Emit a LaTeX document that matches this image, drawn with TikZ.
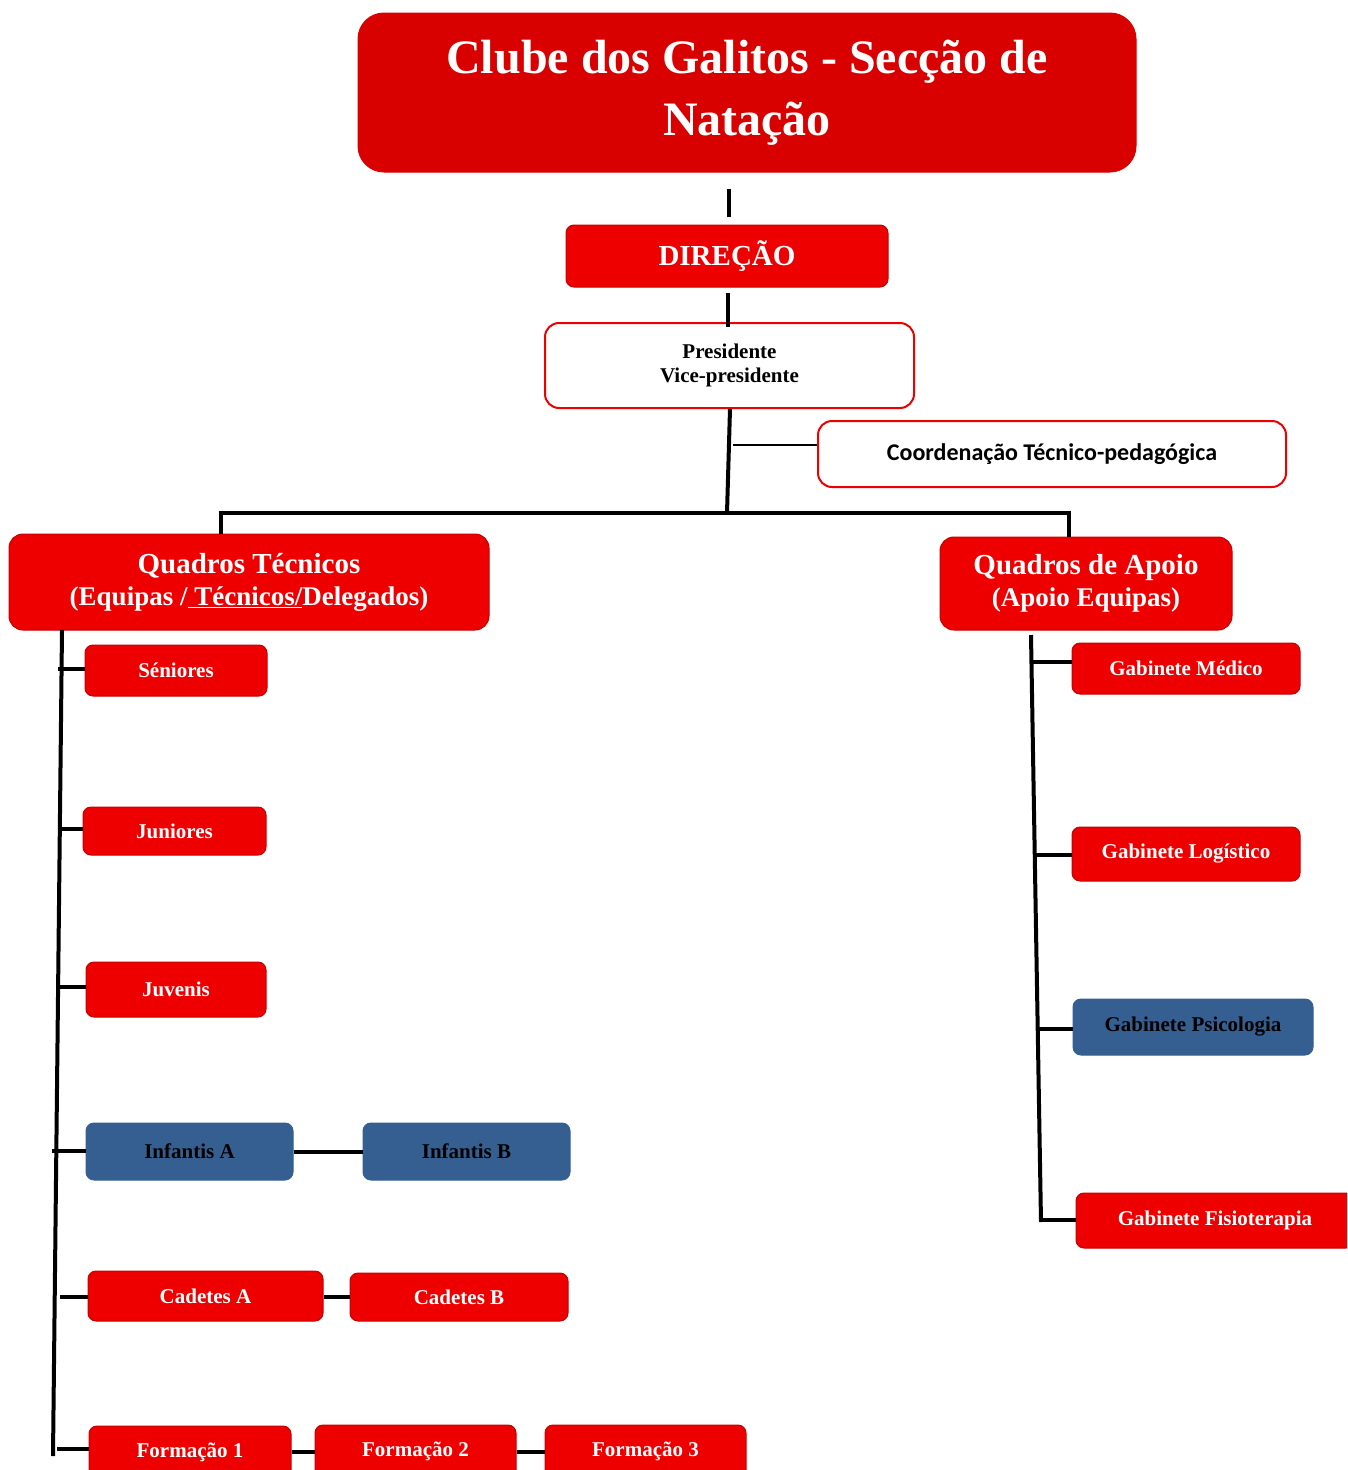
\documentclass[tikz,border=0pt]{standalone}
\usepackage{fontspec}
\setmainfont{Liberation Serif}
\newfontfamily\calib{Carlito}
\definecolor{titlered}{HTML}{D90000}
\definecolor{boxred}{HTML}{EE0000}
\definecolor{edgered}{HTML}{C40000}
\definecolor{boxblue}{HTML}{365F91}
\begin{document}
\begin{tikzpicture}[x=1pt,y=-1pt,
  box/.style={rounded corners=8pt, inner sep=0pt, align=center, draw=edgered, line width=1pt,
    font=\fontsize{21}{24}\selectfont\bfseries},
  redbox/.style={box, fill=boxred, text=white},
  bluebox/.style={box, fill=boxblue, draw=boxblue, text=black},
  whitebox/.style={box, fill=white, draw=boxred, line width=2pt, rounded corners=14pt, text=black},
  conn/.style={line width=4pt, black},
  thin/.style={line width=1.5pt, black}
]
\useasboundingbox (0,0) rectangle (1347,1470);
\clip (0,0) rectangle (1347,1470);

% title and top chain
\node[redbox, fill=titlered, draw=titlered, rounded corners=26pt, minimum width=778pt, minimum height=159pt,
  font=\fontsize{48}{62}\selectfont\bfseries] (title) at (747,92.5) {\raisebox{-3pt}{Clube dos Galitos - Secção de}\\\raisebox{-3pt}{Natação}};
\node[redbox, minimum width=322pt, minimum height=62pt, font=\fontsize{29}{32}\selectfont\bfseries] (dir) at (727,256) {DIREÇÃO};
\node[whitebox, minimum width=369pt, minimum height=85pt] (pres) at (729.5,365.5) {Presidente\\Vice-presidente};
\node[whitebox, minimum width=468pt, minimum height=66pt, font=\calib\fontsize{24}{28}\selectfont\bfseries] (coord) at (1052,454) {Coordenação Técnico-pedagógica};

% second level
\node[redbox, rounded corners=14pt, minimum width=480pt, minimum height=96pt, font=\fontsize{27}{32}\selectfont\bfseries] (qt) at (249,582)
  {{\fontsize{29}{32}\selectfont Quadros Técnicos}\\(Equipas /\underline{ Técnicos/}Delegados)};
\node[redbox, rounded corners=14pt, minimum width=292pt, minimum height=93pt, font=\fontsize{27}{32}\selectfont\bfseries] (qa) at (1086,583.5)
  {{\fontsize{29}{32}\selectfont Quadros de Apoio}\\(Apoio Equipas)};

% left column
\node[redbox, minimum width=182pt, minimum height=51pt] (sen) at (176,670.5) {Séniores};
\node[redbox, minimum width=183pt, minimum height=48pt] (jun) at (174.5,831) {Juniores};
\node[redbox, minimum width=180pt, minimum height=55pt] (juv) at (176,989.5) {Juvenis};
\node[bluebox, minimum width=207pt, minimum height=57pt] (infa) at (189.5,1151.5) {Infantis A};
\node[bluebox, minimum width=207pt, minimum height=57pt] (infb) at (466.5,1151.5) {Infantis B};
\node[redbox, minimum width=235pt, minimum height=50pt] (cada) at (205.5,1296) {Cadetes A};
\node[redbox, minimum width=218pt, minimum height=48pt] (cadb) at (459,1297) {Cadetes B};
\node[redbox, minimum width=202pt, minimum height=52pt] (for1) at (190,1452) {Formação 1};
\node[redbox, minimum width=201pt, minimum height=53pt] (for2) at (415.5,1451.5) {Formação 2};
\node[redbox, minimum width=201pt, minimum height=53pt] (for3) at (645.5,1451.5) {Formação 3};

% right column
\node[redbox, minimum width=228pt, minimum height=51pt] (med) at (1186,668.5) {Gabinete Médico};
\node[redbox, minimum width=228pt, minimum height=54pt] (log) at (1186,854) {Gabinete Logístico};
\node[bluebox, minimum width=240pt, minimum height=56pt] (psi) at (1193,1027) {Gabinete Psicologia};
\node[redbox, minimum width=278pt, minimum height=55pt] (fis) at (1215,1220.5) {Gabinete Fisioterapia};

% top connectors
\draw[conn] ([xshift=2pt,yshift=8pt]dir.north) -- ([xshift=2pt,yshift=36pt]dir.north);
\draw[conn] ([xshift=1pt,yshift=-5pt]dir.south) -- ([xshift=1pt,yshift=-5pt]dir.south |- pres.north);
\coordinate (bar) at (727,513);
\coordinate (lb) at (221,534);
\coordinate (rb) at (1069,537);
\draw[conn] ([xshift=0.5pt]pres.south) -- (bar);
\draw[conn] (lb) |- (bar) -| (rb);
\draw[thin] ([yshift=9pt]coord.west) -- ++(-84,0);

% left trunk
\coordinate (ltop) at (62,630);
\coordinate (lbot) at (53,1456);
\draw[conn] (ltop) -- (lbot);
\coordinate (l1) at (58,669);
\coordinate (l2) at (60,829);
\coordinate (l3) at (56,987);
\coordinate (l4) at (52,1151);
\coordinate (l5) at (60,1297);
\coordinate (l6) at (57,1449);
\draw[conn] (l1) -- (l1 -| sen.west);
\draw[conn] (l2) -- (l2 -| jun.west);
\draw[conn] (l3) -- (l3 -| juv.west);
\draw[conn] (l4) -- (l4 -| infa.west);
\draw[conn] (l5) -- (l5 -| cada.west);
\draw[conn] (l6) -- (l6 -| for1.west);
\draw[conn] (infa.east) -- (infa.east -| infb.west);
\draw[conn] (cadb.west) -- (cadb.west -| cada.east);
\draw[conn] (for1.east) -- (for1.east -| for2.west);
\draw[conn] (for2.east) -- (for2.east -| for3.west);

% right trunk
\coordinate (rtop) at (1031,635);
\coordinate (rbot) at (1041,1222);
\draw[conn] (rtop) -- (rbot);
\coordinate (r1) at (1033,662);
\coordinate (r2) at (1035,855);
\coordinate (r3) at (1037,1029);
\coordinate (r4) at (1041,1220);
\draw[conn] (r1) -- (r1 -| med.west);
\draw[conn] (r2) -- (r2 -| log.west);
\draw[conn] (r3) -- (r3 -| psi.west);
\draw[conn] (r4) -- (r4 -| fis.west);
\end{tikzpicture}
\end{document}
